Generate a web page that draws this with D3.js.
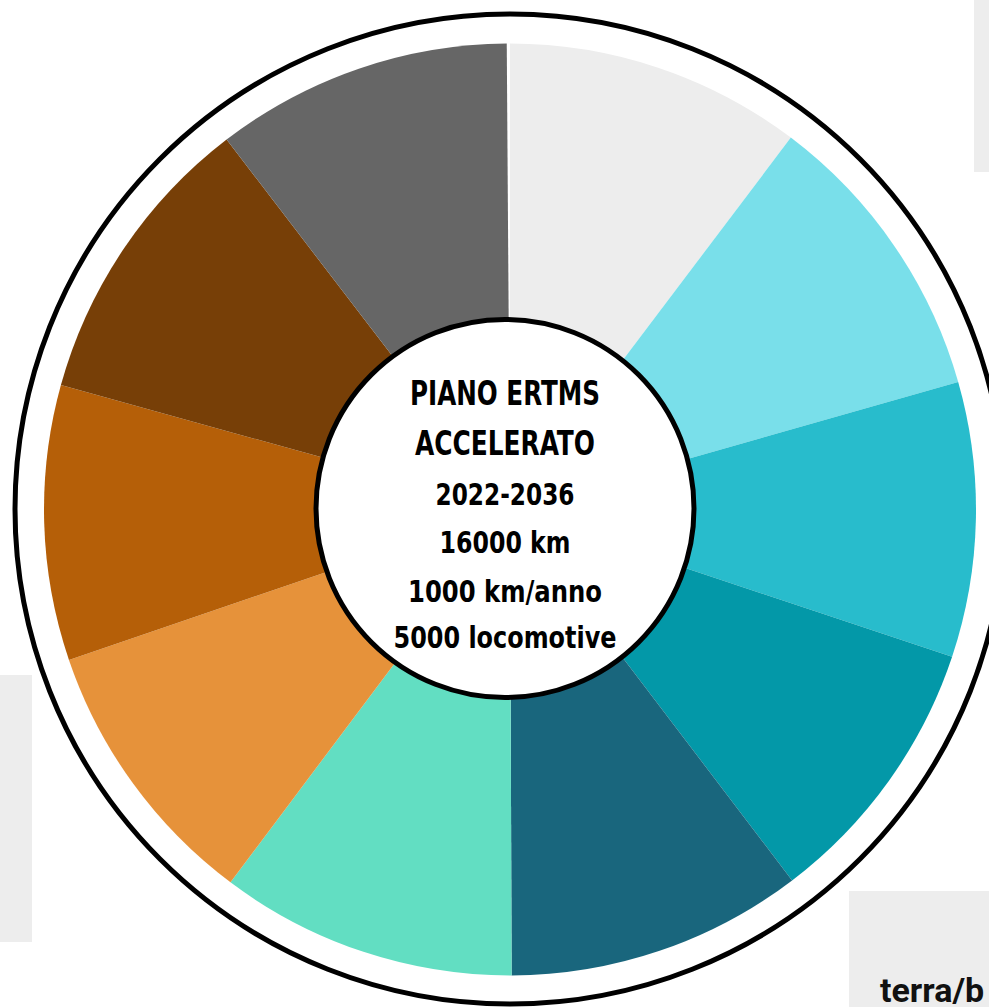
<!DOCTYPE html>
<html>
<head>
<meta charset="utf-8">
<script src="https://cdn.jsdelivr.net/npm/d3@7/dist/d3.min.js"></script>
<style>
  html, body { margin: 0; padding: 0; background: #ffffff; overflow: hidden; }
  svg { display: block; }
</style>
</head>
<body>
<script>
// ---- data ----
const segments = ["Settore 1","Settore 2","Settore 3","Settore 4","Settore 5","Settore 6","Settore 7","Settore 8","Settore 9","Settore 10"];
const values = [27, 27, 25, 25, 27, 27, 25, 25, 27, 27];
const colors = ["#ededed","#79dfea","#28bccc","#0398a8","#19667d","#62dec2","#e6923a","#b55f08","#773f07","#666666"];
const centerLines = ["PIANO ERTMS","ACCELERATO","2022-2036","16000 km","1000 km/anno","5000 locomotive"];
const footerText = "terra/b";

// ---- layout ----
const W = 989, H = 1007;
const cx = 510, cy = 509.5;
const outerR = 466;
const ringR = 495;
const holeCx = 505, holeCy = 508.5, holeR = 189;

const svg = d3.select("body").append("svg").attr("width", W).attr("height", H);

// background page fragments
svg.append("rect").attr("x", 974).attr("y", 0).attr("width", 15).attr("height", 172).attr("fill", "#ededed");
svg.append("rect").attr("x", 0).attr("y", 675).attr("width", 32).attr("height", 267).attr("fill", "#ededed");
svg.append("rect").attr("x", 849).attr("y", 891).attr("width", 140).attr("height", 116).attr("fill", "#ededed");
svg.append("text").attr("x", 880).attr("y", 1002)
  .attr("font-family", "Roboto, 'Liberation Sans', sans-serif").attr("font-weight", 700)
  .attr("font-size", 34).attr("fill", "#111").text(footerText);

// outer ring
svg.append("circle").attr("cx", cx).attr("cy", cy - 0.5).attr("r", ringR)
  .attr("fill", "#ffffff").attr("stroke", "#000").attr("stroke-width", 5);

// pie
const pie = d3.pie().sort(null).startAngle(0).endAngle(2 * Math.PI - 0.4 * Math.PI / 180);
const arc = d3.arc().innerRadius(0).outerRadius(outerR);
const g = svg.append("g").attr("transform", `translate(${cx},${cy})`);
g.selectAll("path").data(pie(values)).join("path")
  .attr("d", arc)
  .attr("fill", (d, i) => colors[i]);

// center hole
svg.append("circle").attr("cx", holeCx).attr("cy", holeCy).attr("r", holeR)
  .attr("fill", "#ffffff").attr("stroke", "#000").attr("stroke-width", 5);

// center text
const lineY = [405, 455, 505, 553, 602, 648];
const lineSize = [34, 34, 31, 31, 31, 31];
const lineWidth = [190, 180, 139, 131, 194, 223];
svg.append("g").selectAll("text").data(centerLines).join("text")
  .attr("x", holeCx)
  .attr("y", (d, i) => lineY[i])
  .attr("text-anchor", "middle")
  .attr("font-family", "'DejaVu Sans Condensed', 'DejaVu Sans', sans-serif")
  .attr("font-weight", 700)
  .attr("font-size", (d, i) => lineSize[i])
  .attr("textLength", (d, i) => lineWidth[i])
  .attr("lengthAdjust", "spacingAndGlyphs")
  .attr("fill", "#000")
  .text(d => d);
</script>
</body>
</html>
